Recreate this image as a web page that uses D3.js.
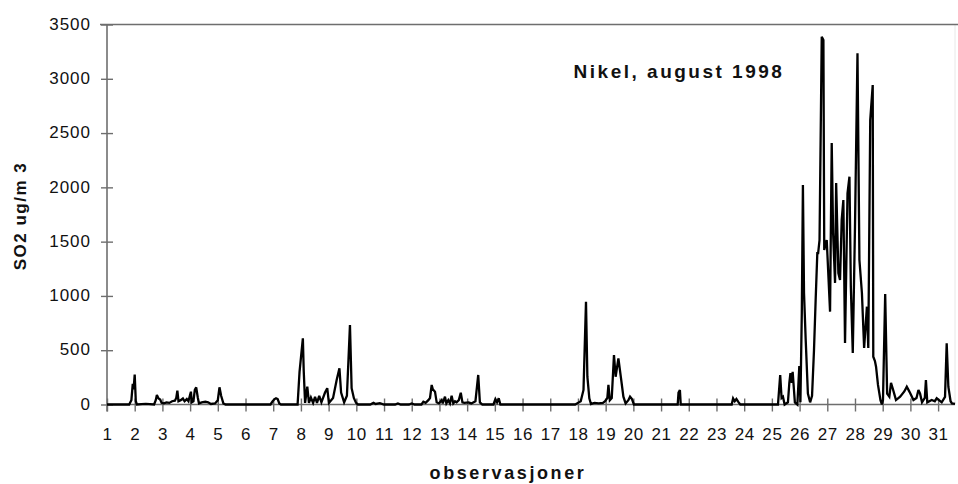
<!DOCTYPE html>
<html>
<head>
<meta charset="utf-8">
<script src="https://cdn.jsdelivr.net/npm/d3@7/dist/d3.min.js"></script>
<style>
  html, body { margin: 0; padding: 0; background: #fff; }
  svg { display: block; }
  text { font-family: "Liberation Sans", Arial, sans-serif; fill: #111; }
</style>
</head>
<body>
<svg id="chart" width="958" height="484"></svg>
<script>
// Hourly SO2 observations at Nikel, August 1998 (time in days, value in ug/m3)
const obsDay = [
  1.00, 1.80, 1.88, 1.93, 1.96, 2.00, 2.04, 2.08, 2.40, 2.70,
  2.76, 2.80, 2.86, 2.92, 2.97, 3.05, 3.15, 3.25, 3.35, 3.45, 3.50, 3.54, 3.58, 3.66, 3.74, 3.80, 3.88, 3.94,
  4.00, 4.03, 4.06, 4.12, 4.17, 4.22, 4.28, 4.32, 4.42, 4.55, 4.65, 4.75, 4.90, 5.00, 5.06, 5.12, 5.20, 5.28,
  6.90, 6.98, 7.05, 7.10, 7.16, 7.22, 7.28,
  7.88, 7.95, 8.07, 8.10, 8.15, 8.23, 8.29, 8.36, 8.44, 8.51, 8.58, 8.66, 8.74, 8.87, 8.95, 9.01, 9.16,
  9.29, 9.39, 9.45, 9.56, 9.66, 9.77, 9.83, 9.91, 9.99, 10.06,
  10.50, 10.62, 10.70, 10.85, 11.00, 11.40, 11.50, 11.60, 11.90, 12.00, 12.10, 12.35, 12.42, 12.50, 12.60, 12.66,
  12.72, 12.76, 12.84, 12.90, 12.98, 13.08, 13.12, 13.20, 13.25, 13.32, 13.38, 13.44, 13.50, 13.56, 13.62, 13.70,
  13.77, 13.83, 13.90, 14.05, 14.15, 14.30, 14.40, 14.46, 14.55,
  14.95, 15.02, 15.08, 15.14, 15.20,
  17.90, 18.00, 18.10, 18.20, 18.29, 18.34, 18.41, 18.47, 18.60, 18.75, 18.90, 18.98, 19.06, 19.10, 19.15, 19.22,
  19.30, 19.36, 19.46, 19.55, 19.64, 19.72, 19.82, 19.88, 19.95, 20.02,
  21.60, 21.63, 21.68, 21.71,
  23.55, 23.60, 23.66, 23.72, 23.80, 23.86,
  25.22, 25.30, 25.35, 25.40, 25.46, 25.58, 25.63, 25.67, 25.72, 25.75, 25.83, 25.92, 25.99, 26.03, 26.08, 26.12,
  26.16, 26.22, 26.30, 26.38, 26.45, 26.52, 26.58, 26.64, 26.67, 26.72, 26.80, 26.86, 26.89, 26.98,
  27.10, 27.16, 27.21, 27.28, 27.32, 27.40, 27.46, 27.52, 27.58, 27.64, 27.73, 27.80, 27.85, 27.92,
  28.00, 28.09, 28.16, 28.25, 28.33, 28.43, 28.48, 28.55, 28.64, 28.66, 28.72, 28.76, 28.83, 28.92, 28.97,
  29.01, 29.09, 29.16, 29.24, 29.30, 29.36, 29.41, 29.48, 29.63, 29.78, 29.87, 29.94, 29.99,
  30.11, 30.22, 30.29, 30.35, 30.42, 30.52, 30.56, 30.61, 30.77, 30.88, 30.95,
  31.13, 31.25, 31.31, 31.37, 31.45, 31.50, 31.61
];
const so2 = [
  0, 0, 40, 190, 140, 275, 30, 0, 5, 0,
  40, 87, 55, 45, 15, 10, 20, 15, 30, 35, 60, 127, 30, 40, 55, 30, 50, 30,
  90, 118, 20, 30, 134, 158, 60, 10, 20, 25, 20, 5, 10, 40, 158, 80, 10, 0,
  0, 30, 50, 57, 50, 10, 0,
  0, 300, 609, 318, 15, 164, 15, 65, 15, 70, 15, 80, 20, 110, 150, 15, 60,
  226, 333, 110, 20, 80, 732, 150, 60, 15, 0,
  0, 15, 5, 12, 0, 0, 10, 0, 0, 10, 0, 0, 25, 15, 40, 60,
  180, 140, 118, 20, 10, 40, 10, 72, 10, 40, 10, 80, 10, 30, 20, 40,
  109, 20, 15, 20, 10, 30, 272, 20, 0,
  0, 50, 20, 57, 0,
  0, 15, 30, 134, 947, 256, 57, 5, 15, 10, 15, 30, 60, 180, 40, 60,
  456, 256, 425, 250, 72, 10, 40, 72, 50, 0,
  0, 110, 134, 0,
  0, 57, 30, 50, 20, 0,
  0, 272, 60, 72, 0, 20, 200, 290, 200, 300, 20, 0, 354, 20, 842, 2022,
  1027, 600, 100, 20, 80, 500, 963, 1394, 1394, 1515, 3388, 3357, 1423, 1515,
  855, 2408, 1580, 1120, 2040, 1210, 1147, 1700, 1883, 566, 1946, 2098, 1085, 474,
  1638, 3235, 1331, 1027, 520, 901, 520, 2620, 2943, 440, 400, 348, 180, 40, 0,
  40, 1017, 100, 72, 200, 150, 105, 41, 72, 120, 164, 130, 105,
  41, 60, 134, 100, 20, 60, 226, 20, 41, 30, 57,
  20, 70, 563, 164, 30, 10, 5
];
const dayTicks = d3.range(1, 32);
const yTicks = [0, 500, 1000, 1500, 2000, 2500, 3000, 3500];
const chartTitle = "Nikel, august 1998";
const yTitle = "SO2 ug/m 3";
const xTitle = "observasjoner";

const svg = d3.select("#chart");
const plotLeft = 107, plotRight = 955, plotTop = 24.5, plotBottom = 404.5;

const x = d3.scaleLinear().domain([1, 31.61]).range([plotLeft, plotRight]);
const y = d3.scaleLinear().domain([0, 3500]).range([plotBottom, plotTop]);

const axisColor = "#6e6e6e";
const fontFamily = "Liberation Sans, Arial, sans-serif";

// frame: faint right edge, top line
svg.append("line")
  .attr("x1", plotRight).attr("x2", plotRight).attr("y1", plotTop).attr("y2", plotBottom)
  .attr("stroke", "#e8e8e8").attr("stroke-width", 1);
svg.append("line")
  .attr("x1", plotLeft - 7).attr("x2", 958).attr("y1", plotTop).attr("y2", plotTop)
  .attr("stroke", axisColor).attr("stroke-width", 1.6);

// y axis
const yAxis = d3.axisLeft(y).tickValues(yTicks).tickFormat(d3.format("d"))
  .tickSize(6).tickPadding(10);
const gy = svg.append("g").attr("transform", `translate(${plotLeft},0)`).call(yAxis);
gy.select(".domain").remove();
gy.selectAll(".tick line").attr("x2", -6).attr("x1", 6)
  .attr("stroke", axisColor).attr("stroke-width", 1.4);
gy.selectAll(".tick text")
  .attr("font-size", 17).attr("letter-spacing", "1px")
  .attr("font-family", fontFamily)
  .attr("fill", "#111").attr("dy", "0.28em");
svg.append("line")
  .attr("x1", plotLeft).attr("x2", plotLeft).attr("y1", plotTop).attr("y2", plotBottom + 7)
  .attr("stroke", axisColor).attr("stroke-width", 1.6);

// x axis: one tick per day
const xAxis = d3.axisBottom(x).tickValues(dayTicks).tickFormat(d3.format("d"))
  .tickSize(6).tickPadding(17);
const gx = svg.append("g").attr("transform", `translate(0,${plotBottom})`).call(xAxis);
gx.select(".domain").remove();
gx.selectAll(".tick line").attr("y1", -6).attr("y2", 7)
  .attr("stroke", axisColor).attr("stroke-width", 1.4);
gx.selectAll(".tick text")
  .attr("font-size", 17).attr("letter-spacing", "0.6px")
  .attr("font-family", fontFamily)
  .attr("fill", "#111");
svg.append("line")
  .attr("x1", plotLeft).attr("x2", plotRight).attr("y1", plotBottom).attr("y2", plotBottom)
  .attr("stroke", axisColor).attr("stroke-width", 1.6);

// data line
const points = obsDay.map((d, i) => [d, so2[i]]);
const line = d3.line().x(d => x(d[0])).y(d => y(d[1]));
svg.append("path")
  .datum(points)
  .attr("d", line)
  .attr("fill", "none")
  .attr("stroke", "#000")
  .attr("stroke-width", 2.3)
  .attr("stroke-linejoin", "miter")
  .attr("stroke-miterlimit", 3);

// titles
svg.append("text")
  .attr("x", 679).attr("y", 78)
  .attr("text-anchor", "middle")
  .attr("font-size", 19).attr("font-weight", "bold")
  .attr("letter-spacing", "2.5px")
  .text(chartTitle);

svg.append("text")
  .attr("transform", "translate(26,216) rotate(-90)")
  .attr("text-anchor", "middle")
  .attr("font-size", 17).attr("font-weight", "bold")
  .attr("letter-spacing", "1.5px")
  .text(yTitle);

svg.append("text")
  .attr("x", 508).attr("y", 479)
  .attr("text-anchor", "middle")
  .attr("font-size", 18).attr("font-weight", "bold")
  .attr("letter-spacing", "2.6px")
  .text(xTitle);
</script>
</body>
</html>
